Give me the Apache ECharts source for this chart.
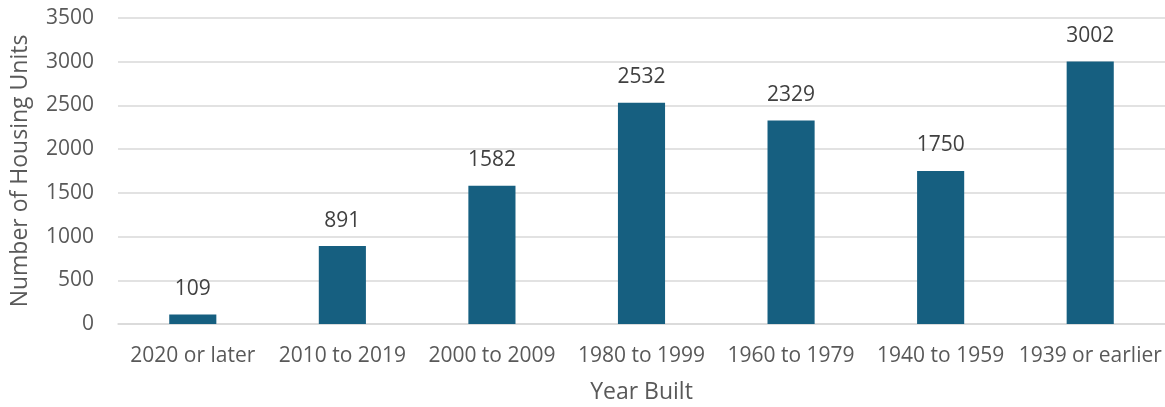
<!DOCTYPE html>
<html>
<head>
<meta charset="utf-8">
<script src="https://cdn.jsdelivr.net/npm/echarts@6/dist/echarts.min.js"></script>
<style>
  html, body { margin: 0; padding: 0; background: #fff; }
  #chart { width: 1165px; height: 407px; }
</style>
</head>
<body>
<div id="chart"></div>
<script>
// Housing units by year the structure was built
const categories = ['2020 or later', '2010 to 2019', '2000 to 2009', '1980 to 1999', '1960 to 1979', '1940 to 1959', '1939 or earlier'];
const housingUnits = [109, 891, 1582, 2532, 2329, 1750, 3002];

const FONT = '"Open Sans", "Noto Sans", sans-serif';
const chart = echarts.init(document.getElementById('chart'));
chart.setOption({
  animation: false,
  grid: { left: 118, right: 0, top: 18, bottom: 83, outerBoundsMode: 'none', containLabel: false },
  xAxis: {
    type: 'category',
    data: categories,
    name: 'Year Built',
    nameLocation: 'middle',
    nameGap: 57,
    nameTextStyle: { fontFamily: FONT, fontSize: 23, color: '#595959' },
    axisLine: { lineStyle: { color: '#d9d9d9', width: 1.5 } },
    axisTick: { show: false },
    axisLabel: { fontFamily: FONT, fontSize: 21, color: '#595959', margin: 22, interval: 0 }
  },
  yAxis: {
    type: 'value',
    min: 0,
    max: 3500,
    interval: 500,
    name: 'Number of Housing Units',
    nameLocation: 'middle',
    nameGap: 86,
    nameTextStyle: { fontFamily: FONT, fontSize: 23, color: '#595959' },
    axisLine: { show: false },
    axisTick: { show: false },
    axisLabel: { fontFamily: FONT, fontSize: 21, color: '#595959', margin: 24, formatter: v => String(v) },
    splitLine: { lineStyle: { color: '#d9d9d9', width: 1.5 } }
  },
  series: [{
    type: 'bar',
    data: housingUnits,
    barWidth: '31.5%',
    itemStyle: { color: '#165f80' },
    label: {
      show: true,
      position: 'top',
      distance: 15,
      fontFamily: FONT,
      fontSize: 21,
      color: '#404040'
    }
  }]
});
</script>
</body>
</html>
